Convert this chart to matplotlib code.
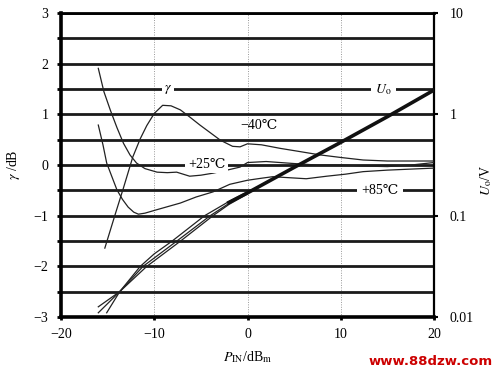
import numpy as np
import matplotlib.pyplot as plt
from matplotlib.ticker import FixedLocator, NullFormatter

plt.rcParams['font.family'] = ['Liberation Serif', 'DejaVu Serif']
plt.rcParams['mathtext.fontset'] = 'stix'

# gamma curves (dB)
x_m40 = [-15.3, -14.2, -13.3, -12.3, -11.5, -10.8, -10.0, -9.1, -8.2, -7.2, -6.2, -5.1, -4.0, -2.9, -1.6, -0.8, 0.0, 1.5, 3.5, 5.5, 7.8, 10.0, 12.4, 15.0, 20.0]
g_m40 = [-1.64, -0.98, -0.45, 0.16, 0.52, 0.78, 1.02, 1.18, 1.17, 1.09, 0.95, 0.79, 0.64, 0.49, 0.37, 0.36, 0.42, 0.40, 0.33, 0.27, 0.20, 0.15, 0.10, 0.08, 0.08]

x_p25 = [-16.0, -15.4, -14.7, -14.0, -13.3, -12.6, -11.9, -11.0, -9.7, -8.6, -7.6, -6.2, -5.0, -3.7, -2.2, -0.8, 0.0, 2.0, 5.0, 7.5, 10.0, 12.5, 15.0, 17.5, 20.0]
g_p25 = [1.91, 1.45, 1.08, 0.74, 0.43, 0.20, 0.04, -0.07, -0.14, -0.15, -0.14, -0.22, -0.20, -0.16, -0.10, -0.04, 0.05, 0.07, 0.03, 0.0, 0.0, -0.02, -0.03, 0.0, 0.05]

x_p85 = [-16.0, -15.5, -15.1, -14.5, -14.0, -13.4, -12.8, -12.2, -11.7, -11.0, -9.5, -7.2, -5.5, -3.7, -1.9, 0.0, 1.5, 2.7, 4.5, 6.3, 8.5, 10.5, 12.4, 15.0, 17.5, 20.0]
g_p85 = [0.79, 0.40, 0.04, -0.25, -0.49, -0.68, -0.83, -0.93, -0.97, -0.95, -0.87, -0.75, -0.63, -0.53, -0.38, -0.30, -0.26, -0.23, -0.25, -0.27, -0.22, -0.18, -0.13, -0.10, -0.08, -0.06]

# output voltage (V)
x_u1 = [-16.0, -13.7, -10.8, -7.2, -3.7, -2.0, 0.0]
u_u1 = [0.0126, 0.0178, 0.0316, 0.056, 0.100, 0.129, 0.164]
x_u2 = [-16.0, -13.7, -11.2, -7.6, -4.0, -2.0, 0.0]
u_u2 = [0.0110, 0.0178, 0.0316, 0.056, 0.100, 0.132, 0.168]
x_u3 = [-15.1, -13.7, -11.5, -10.0, -8.1, -4.6, -2.0, 0.0]
u_u3 = [0.0110, 0.0178, 0.0316, 0.042, 0.056, 0.100, 0.138, 0.172]
x_uo = [-2.0, 0.0, 5.0, 10.0, 15.0, 20.0]
u_uo = [0.135, 0.168, 0.30, 0.53, 0.95, 1.74]

fig = plt.figure(figsize=(5.0, 3.76), dpi=100)
ax = fig.add_axes([0.122, 0.157, 0.746, 0.808])
ax.set_xlim(-20, 20)
ax.set_ylim(-3, 3)

# thick horizontal grid at every 0.5 dB
ax.yaxis.set_major_locator(FixedLocator([-3, -2, -1, 0, 1, 2, 3]))
ax.yaxis.set_minor_locator(FixedLocator([-2.5, -1.5, -0.5, 0.5, 1.5, 2.5]))
ax.set_yticklabels(['\u22123', '\u22122', '\u22121', '0', '1', '2', '3'])
for yv in np.arange(-2.5, 3.01, 0.5):
    ax.axhline(yv, color='#1a1a1a', lw=2.0, zorder=1)
ax.set_xticks([-20, -10, 0, 10, 20])
ax.set_xticklabels(['\u221220', '\u221210', '0', '10', '20'])
for xv in [-10, 0, 10]:
    ax.axvline(xv, color='#999999', lw=0.7, ls=(0, (1, 1.5)), zorder=0)

ax.tick_params(axis='y', which='both', direction='out', length=3, width=2, labelsize=10, pad=6)
ax.tick_params(axis='x', direction='out', length=2, width=2, labelsize=10, pad=6)
ax.tick_params(top=False, right=False)
for s in ['left', 'bottom']:
    ax.spines[s].set_linewidth(2.6)
ax.spines['top'].set_linewidth(2.0)
ax.spines['right'].set_linewidth(1.6)

ax.plot(x_m40, g_m40, color='#222222', lw=0.9, zorder=3)
ax.plot(x_p25, g_p25, color='#222222', lw=0.9, zorder=3)
ax.plot(x_p85, g_p85, color='#222222', lw=0.9, zorder=3)

ax.set_ylabel('$\\gamma$ /dB', fontsize=10)
ax.yaxis.set_label_coords(-0.105, 0.5)
ax.set_xlabel('$P_{\\mathrm{IN}}$/dB$_{\\mathrm{m}}$', fontsize=10, labelpad=6)

# right log axis for U_O
ax2 = ax.twinx()
ax2.set_yscale('log')
ax2.set_ylim(0.01, 10)
ax2.set_yticks([0.01, 0.1, 1, 10])
ax2.set_yticklabels(['0.01', '0.1', '1', '10'])
ax2.yaxis.set_minor_formatter(NullFormatter())
ax2.tick_params(axis='y', which='minor', length=0)
ax2.tick_params(axis='y', which='major', direction='out', length=3, width=1.5, labelsize=10, pad=8)
for s in ax2.spines.values():
    s.set_visible(False)
ax2.plot(x_u1, u_u1, color='#222222', lw=0.9, zorder=3)
ax2.plot(x_u2, u_u2, color='#222222', lw=0.9, zorder=3)
ax2.plot(x_u3, u_u3, color='#222222', lw=0.9, zorder=3)
ax2.plot(x_uo, u_uo, color='#111111', lw=2.6, zorder=4)
ax2.set_ylabel('$U_{\\mathrm{o}}$/V', fontsize=10)
ax2.yaxis.set_label_coords(1.118, 0.45)

box = dict(facecolor='white', edgecolor='none', pad=1.5)
ax.text(-8.5, 1.5, '$\\gamma$', fontsize=10, ha='center', va='center', bbox=box, zorder=5)
ax.text(14.6, 1.5, '$U_{\\mathrm{o}}$', fontsize=10, ha='center', va='center',
        bbox=dict(facecolor='white', edgecolor='none', pad=3), zorder=5)
ax.text(1.2, 0.78, '\u221240\u2103', fontsize=10, ha='center', va='center', zorder=5)
ax.text(-4.4, 0.02, '+25\u2103', fontsize=10, ha='center', va='center',
        bbox=dict(facecolor='white', edgecolor='none', pad=2), zorder=5)
ax.text(14.2, -0.5, '+85\u2103', fontsize=10, ha='center', va='center',
        bbox=dict(facecolor='white', edgecolor='none', pad=3), zorder=5)

fig.text(0.986, 0.02, 'www.88dzw.com', color='#cc0000', fontsize=9.5, fontweight='bold',
         family='DejaVu Sans', ha='right', va='bottom')

fig.savefig('out.png', dpi=100)
